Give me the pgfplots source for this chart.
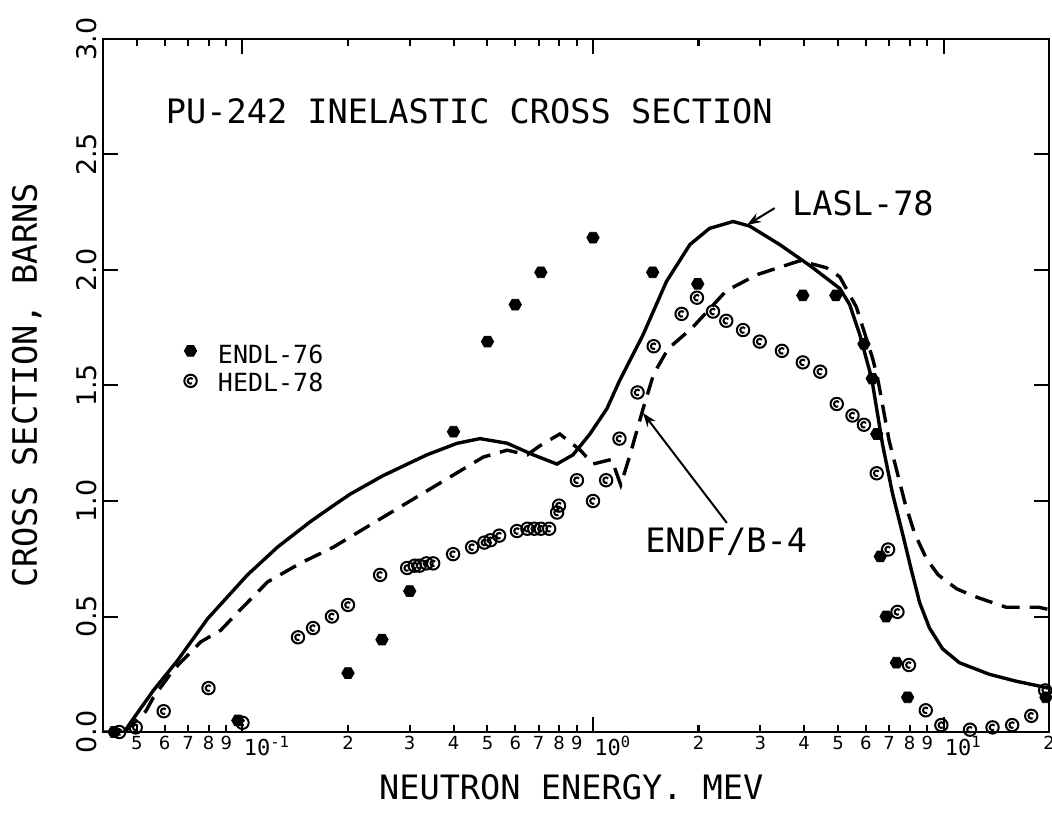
\documentclass[border=0pt]{standalone}
\usepackage{fontspec}
\setmainfont{DejaVu Sans Mono}
\newfontfamily\tickfont{DejaVu Sans}
\usepackage{pgfplots}
\pgfplotsset{compat=1.18}
\usetikzlibrary{calc,arrows.meta}
\newcommand\fs[1]{\fontsize{#1}{#1}\selectfont}
\pgfdeclareplotmark{hex*}{%
  \pgfpathmoveto{\pgfpointpolar{0}{\pgfplotmarksize}}%
  \pgfpathlineto{\pgfpointpolar{60}{\pgfplotmarksize}}%
  \pgfpathlineto{\pgfpointpolar{120}{\pgfplotmarksize}}%
  \pgfpathlineto{\pgfpointpolar{180}{\pgfplotmarksize}}%
  \pgfpathlineto{\pgfpointpolar{240}{\pgfplotmarksize}}%
  \pgfpathlineto{\pgfpointpolar{300}{\pgfplotmarksize}}%
  \pgfpathclose
  \pgfusepathqfillstroke}
\pgfdeclareplotmark{hedl}{%
  \pgfpathcircle{\pgfpointorigin}{\pgfplotmarksize}%
  \pgfusepathqstroke
  \pgfpathmoveto{\pgfpointpolar{40}{0.45\pgfplotmarksize}}%
  \pgfpatharc{40}{300}{0.45\pgfplotmarksize}%
  \pgfusepathqstroke}
\begin{document}
\begin{tikzpicture}
\begin{axis}[
  scale only axis, width=473pt, height=346.5pt,
  xmode=log, xmin=0.04, xmax=20, ymin=0, ymax=3,
  axis line style={line width=1.3pt},
  tick align=inside,
  every tick/.style={black, line width=1pt},
  major tick length=7.5pt, minor tick length=3.5pt,
  xtick={0.1,1,10},
  xticklabels={10\textsuperscript{-1},10\textsuperscript{0},10\textsuperscript{1}},
  xticklabel style={font=\fs{11}, anchor=north west, xshift=-1.5pt, inner sep=2pt},
  extra x ticks={0.05,0.06,0.07,0.08,0.09,0.2,0.3,0.4,0.5,0.6,0.7,0.8,0.9,2,3,4,5,6,7,8,9,20},
  extra x tick labels={5,6,7,8,9,2,3,4,5,6,7,8,9,2,3,4,5,6,7,8,9,2},
  extra x tick style={major tick length=3.5pt, xticklabel style={font=\tickfont\fs{9}, anchor=north, xshift=1.5pt}},
  ytick={0,0.5,1,1.5,2,2.5,3},
  yticklabel style={xshift=-3pt, rotate=90, anchor=base, font=\tickfont\fs{13.5},
    /pgf/number format/.cd, fixed, fixed zerofill, precision=1, assume math mode=true},
  xlabel={NEUTRON ENERGY. MEV},
  xlabel style={at={(axis description cs:0.495,-0.0967)}, anchor=base, font=\fs{16.8}},
  ylabel={CROSS SECTION, BARNS},
  ylabel style={at={(axis description cs:-0.0698,0.5)}, anchor=base, font=\fs{16.8}},
]
% LASL-78
\addplot[black, line width=1.7pt] coordinates {
(0.04,0) (0.046,0) (0.0474,0.03) (0.0557,0.18) (0.0653,0.31) (0.0795,0.49) (0.1033,0.68)
(0.1258,0.80) (0.156,0.91) (0.1816,0.98) (0.203,1.03) (0.252,1.11) (0.336,1.20) (0.410,1.25)
(0.476,1.27) (0.569,1.25) (0.675,1.20) (0.789,1.16) (0.877,1.20) (0.98,1.29) (1.096,1.40)
(1.19,1.52) (1.39,1.72) (1.62,1.95) (1.89,2.11) (2.15,2.18) (2.51,2.21) (2.80,2.19)
(3.41,2.11) (4.15,2.02) (5.06,1.92) (5.40,1.85) (5.77,1.72) (6.24,1.53) (6.70,1.245)
(7.16,1.03) (7.64,0.86) (8.10,0.70) (8.55,0.56) (9.12,0.45) (9.94,0.36) (11.1,0.30)
(13.5,0.25) (16.1,0.22) (20,0.19)};
% ENDF/B-4
\addplot[black, line width=1.7pt, dash pattern=on 9pt off 5pt] coordinates {
(0.046,0) (0.053,0.09) (0.0557,0.15) (0.0636,0.27) (0.076,0.39) (0.0866,0.44) (0.0987,0.53)
(0.118,0.65) (0.146,0.73) (0.1816,0.80) (0.252,0.93) (0.35,1.06) (0.486,1.19) (0.569,1.22)
(0.65,1.20) (0.707,1.24) (0.804,1.29) (0.92,1.22) (1.0,1.16) (1.13,1.18) (1.20,1.07)
(1.27,1.19) (1.39,1.40) (1.49,1.55) (1.64,1.66) (1.92,1.75) (2.40,1.91) (2.94,1.98)
(3.89,2.04) (4.63,2.01) (5.06,1.97) (5.64,1.84) (6.27,1.62) (6.49,1.53) (7.0,1.26)
(7.77,0.99) (8.27,0.86) (8.94,0.75) (9.66,0.68) (10.9,0.62) (12.1,0.59) (13.8,0.56)
(15.1,0.54) (18.7,0.54) (20,0.53)};
% ENDL-76
\addplot[only marks, mark=hex*, mark size=3.1pt, black] coordinates {
(0.043,0.0) (0.097,0.05) (0.2,0.255) (0.25,0.40) (0.30,0.61) (0.40,1.30) (0.50,1.69)
(0.60,1.85) (0.71,1.99) (1.0,2.14) (1.48,1.99) (1.99,1.94) (3.97,1.89) (4.93,1.89)
(5.93,1.68) (6.26,1.53) (6.45,1.29) (6.6,0.76) (6.86,0.50) (7.34,0.30) (7.9,0.15) (19.6,0.15)};
% HEDL-78
\addplot[only marks, mark=hedl, mark size=3.1pt, black, line width=1pt] coordinates {
(0.0445,0.0) (0.0496,0.02) (0.0596,0.09) (0.080,0.19) (0.1,0.04) (0.144,0.41) (0.159,0.45)
(0.18,0.50) (0.20,0.55) (0.247,0.68) (0.295,0.71) (0.31,0.72) (0.32,0.72) (0.335,0.73)
(0.35,0.73) (0.399,0.77) (0.452,0.80) (0.49,0.82) (0.51,0.83) (0.54,0.85) (0.607,0.87)
(0.65,0.88) (0.68,0.88) (0.71,0.88) (0.75,0.88) (0.79,0.95) (0.80,0.98) (0.90,1.09)
(1.0,1.0) (1.09,1.09) (1.19,1.27) (1.34,1.47) (1.49,1.67) (1.79,1.81) (1.98,1.88)
(2.2,1.82) (2.40,1.78) (2.68,1.74) (2.99,1.69) (3.46,1.65) (3.97,1.60) (4.45,1.56)
(4.96,1.42) (5.5,1.37) (5.93,1.33) (6.45,1.12) (6.95,0.79) (7.39,0.52) (7.97,0.29)
(8.9,0.094) (9.86,0.03) (11.9,0.01) (13.8,0.02) (15.7,0.03) (17.8,0.07) (19.5,0.18)};
% legend markers
\addplot[only marks, mark=hex*, mark size=3.1pt, black] coordinates {(0.0711,1.65)};
\addplot[only marks, mark=hedl, mark size=3.1pt, black, line width=1pt] coordinates {(0.0711,1.52)};
\node[anchor=base west, inner sep=0pt, font=\fs{12.5}] at (axis cs:0.0849,1.597) {ENDL-76};
\node[anchor=base west, inner sep=0pt, font=\fs{12.5}] at (axis cs:0.0849,1.476) {HEDL-78};
% title and annotations
\node[anchor=base west, inner sep=0pt, font=\fs{16.8}] at (axis cs:0.0603,2.636) {PU-242 INELASTIC CROSS SECTION};
\node[anchor=base west, inner sep=0pt, font=\fs{16.8}] at (axis cs:3.69,2.235) {LASL-78};
\draw[-{Stealth[length=7pt,width=5pt]}, line width=1pt] (axis cs:3.30,2.268) -- (axis cs:2.75,2.195);
\node[anchor=base west, inner sep=0pt, font=\fs{16.8}] at (axis cs:1.406,0.775) {ENDF/B-4};
\draw[-{Stealth[length=7pt,width=5pt]}, line width=1pt] (axis cs:2.41,0.905) -- (axis cs:1.389,1.381);
\end{axis}
\pgfresetboundingbox
\path[use as bounding box] ($(current axis.south west)+(-51.5pt,-40.5pt)$) rectangle ($(current axis.north east)+(1.5pt,19.5pt)$);
\end{tikzpicture}
\end{document}
